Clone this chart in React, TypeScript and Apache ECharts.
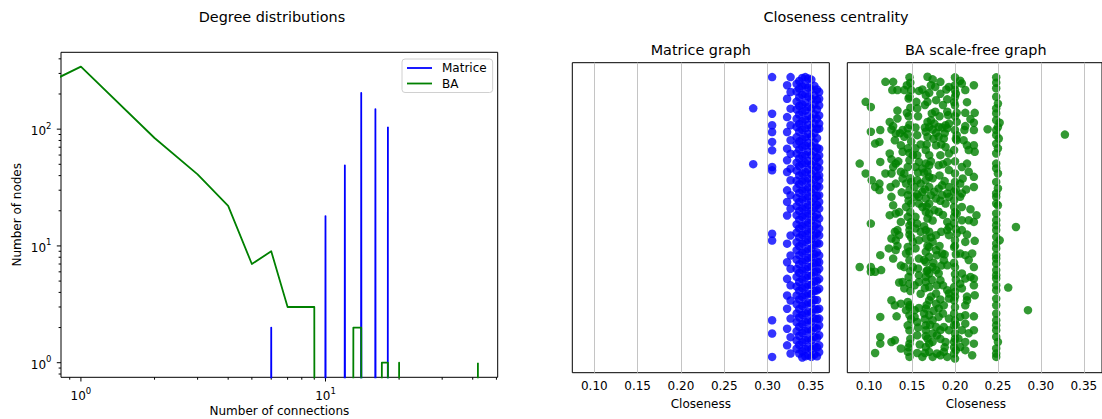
import React, { useEffect, useRef } from "react";
import * as echarts from "echarts";

const FONT = '"DejaVu Sans", sans-serif';

// ---------- Degree distributions (index = number of connections) ----------
const matriceDegreeCounts = [0, 0, 0, 0, 0, 0, 2, 0, 0, 0, 18, 0, 49, 0, 204, 0, 148, 0, 105];
const baDegreeCounts = [
  0, 343, 84, 41, 22, 7, 9, 3, 3, 3, 0, 0, 0, 2, 2, 0, 0, 1, 1, 0, 1,
  0, 0, 0, 0, 0, 0, 0, 0, 0, 0, 0, 0, 0, 0, 0, 0, 0, 0, 0, 0, 0,
  1,
];
const DEG_MIN = 0.829;
const DEG_MAX = 50.6;
const COUNT_MIN = 0.75;
const COUNT_MAX = 455;
const degMajorTicks = [1, 10];
const degMinorTicks = [0.9, 2, 3, 4, 5, 6, 7, 8, 9, 20, 30, 40, 50];
const countMajorTicks = [1, 10, 100];
const countMinorTicks = [0.8, 0.9, 2, 3, 4, 5, 6, 7, 8, 9, 20, 30, 40, 50, 60, 70, 80, 90, 200, 300, 400];
// matplotlib clips non-positive values on log axes to a vanishingly small number
const LOG_CLIP = 1e-100;

// ---------- Closeness centrality (closeness value, vertical jitter) ----------
const CLOSE_MIN = 0.0746;
const CLOSE_MAX = 0.3712;
const closenessTicks = [0.1, 0.15, 0.2, 0.25, 0.3, 0.35];

const matriceColumns: [number, number[]][] = [
  [0.2834, [0.888, 0.69]],
  [0.3052, [0.999, 0.869, 0.828, 0.804, 0.769, 0.739, 0.68, 0.668, 0.443, 0.419, 0.136, 0.089, 0.006]],
  [0.3225, [0.97, 0.922, 0.857, 0.804, 0.745, 0.704, 0.662, 0.597, 0.556, 0.508, 0.408, 0.342, 0.283, 0.224, 0.177, 0.106, 0.047]],
  [0.3265, [0.999, 0.946, 0.887, 0.828, 0.775, 0.727, 0.674, 0.633, 0.58, 0.532, 0.437, 0.366, 0.319, 0.26, 0.206, 0.142, 0.076, 0.018]],
  [0.3335, [0.975, 0.948, 0.912, 0.884, 0.851, 0.822, 0.786, 0.76, 0.728, 0.695, 0.667, 0.631, 0.604, 0.57, 0.541, 0.509, 0.476, 0.447, 0.413, 0.385, 0.351, 0.318, 0.29, 0.256, 0.224, 0.193, 0.16, 0.129, 0.097, 0.064, 0.035]],
  [0.3365, [0.985, 0.958, 0.927, 0.897, 0.866, 0.833, 0.805, 0.771, 0.742, 0.71, 0.683, 0.65, 0.619, 0.588, 0.556, 0.524, 0.493, 0.462, 0.43, 0.399, 0.367, 0.335, 0.304, 0.272, 0.241, 0.21, 0.176, 0.146, 0.113, 0.081, 0.049, 0.018]],
  [0.34, [0.996, 0.966, 0.936, 0.902, 0.875, 0.842, 0.812, 0.779, 0.751, 0.719, 0.69, 0.657, 0.628, 0.596, 0.565, 0.533, 0.503, 0.47, 0.439, 0.408, 0.376, 0.344, 0.313, 0.281, 0.25, 0.219, 0.187, 0.155, 0.122, 0.091, 0.058, 0.026, 0.004]],
  [0.3435, [0.999, 0.97, 0.939, 0.909, 0.88, 0.848, 0.817, 0.786, 0.756, 0.723, 0.694, 0.662, 0.632, 0.601, 0.571, 0.538, 0.508, 0.476, 0.444, 0.414, 0.381, 0.35, 0.318, 0.288, 0.255, 0.225, 0.193, 0.161, 0.13, 0.098, 0.066, 0.034, 0.008]],
  [0.347, [0.994, 0.962, 0.93, 0.893, 0.861, 0.829, 0.797, 0.765, 0.735, 0.701, 0.671, 0.639, 0.607, 0.576, 0.545, 0.515, 0.482, 0.451, 0.421, 0.388, 0.357, 0.326, 0.294, 0.262, 0.231, 0.199, 0.167, 0.136, 0.104, 0.072, 0.041, 0.012]],
  [0.3505, [0.99, 0.956, 0.921, 0.888, 0.853, 0.819, 0.788, 0.754, 0.722, 0.688, 0.655, 0.622, 0.59, 0.556, 0.524, 0.491, 0.458, 0.425, 0.392, 0.36, 0.327, 0.295, 0.262, 0.229, 0.196, 0.163, 0.131, 0.099, 0.066, 0.034, 0.006]],
  [0.354, [0.968, 0.934, 0.902, 0.867, 0.834, 0.8, 0.767, 0.735, 0.7, 0.667, 0.635, 0.601, 0.568, 0.536, 0.503, 0.47, 0.437, 0.404, 0.371, 0.339, 0.306, 0.273, 0.24, 0.208, 0.175, 0.143, 0.11, 0.077, 0.044, 0.014]],
  [0.357, [0.955, 0.918, 0.884, 0.851, 0.815, 0.782, 0.748, 0.713, 0.68, 0.646, 0.612, 0.578, 0.545, 0.511, 0.478, 0.444, 0.41, 0.377, 0.343, 0.309, 0.276, 0.242, 0.208, 0.174, 0.141, 0.107, 0.074, 0.04, 0.008]],
  [0.3595, [0.946, 0.922, 0.899, 0.863, 0.834, 0.816, 0.745, 0.721, 0.698, 0.674, 0.65, 0.633, 0.609, 0.58, 0.556, 0.532, 0.497, 0.461, 0.437, 0.408, 0.366, 0.342, 0.319, 0.283, 0.248, 0.177, 0.142, 0.118, 0.083, 0.047, 0.023]],
];

const baPoints: [number, number][] = [
  [0.119, 0.982], [0.128, 0.982], [0.127, 0.953], [0.133, 0.953], [0.141, 0.953], [0.144, 0.97], [0.147, 0.998], [0.148, 0.979],
  [0.149, 0.953], [0.162, 0.955], [0.168, 1.0], [0.17, 0.943], [0.174, 0.991], [0.177, 0.964], [0.183, 0.982], [0.19, 0.955],
  [0.193, 0.964], [0.2, 0.998], [0.2, 0.953], [0.206, 0.986], [0.208, 0.976], [0.212, 0.953], [0.222, 0.97], [0.248, 0.998],
  [0.248, 0.979], [0.248, 0.959],
  [0.096, 0.911], [0.102, 0.893], [0.146, 0.923], [0.155, 0.911], [0.168, 0.911], [0.178, 0.917], [0.191, 0.92], [0.2, 0.929],
  [0.2, 0.899], [0.248, 0.929], [0.25, 0.905], [0.248, 0.888], [0.166, 0.935],
  [0.144, 0.872], [0.156, 0.888], [0.177, 0.876], [0.191, 0.876], [0.192, 0.864], [0.202, 0.872], [0.212, 0.872], [0.223, 0.872],
  [0.248, 0.87], [0.124, 0.84], [0.133, 0.852], [0.128, 0.825], [0.168, 0.84], [0.17, 0.822], [0.176, 0.834], [0.181, 0.822],
  [0.189, 0.828], [0.193, 0.834], [0.202, 0.84], [0.212, 0.825], [0.222, 0.837], [0.248, 0.846], [0.252, 0.837], [0.25, 0.822],
  [0.172, 0.846],
  [0.102, 0.805], [0.113, 0.811], [0.126, 0.813], [0.131, 0.799], [0.139, 0.811], [0.145, 0.817], [0.154, 0.82], [0.141, 0.787],
  [0.145, 0.796], [0.156, 0.793], [0.166, 0.805], [0.168, 0.787], [0.174, 0.813], [0.178, 0.801], [0.181, 0.787], [0.185, 0.82],
  [0.191, 0.817], [0.187, 0.781], [0.2, 0.811], [0.202, 0.793], [0.211, 0.811], [0.222, 0.811], [0.238, 0.814], [0.248, 0.811],
  [0.248, 0.793], [0.251, 0.781], [0.328, 0.795],
  [0.107, 0.763], [0.112, 0.769], [0.13, 0.775], [0.137, 0.757], [0.145, 0.746], [0.139, 0.734], [0.154, 0.746], [0.156, 0.722],
  [0.166, 0.74], [0.17, 0.722], [0.178, 0.757], [0.189, 0.751], [0.183, 0.722], [0.202, 0.775], [0.21, 0.775], [0.214, 0.757],
  [0.222, 0.757], [0.223, 0.734], [0.248, 0.763], [0.25, 0.746], [0.248, 0.728], [0.124, 0.728], [0.151, 0.722], [0.193, 0.728],
  [0.089, 0.692], [0.113, 0.698], [0.126, 0.707], [0.128, 0.68], [0.131, 0.692], [0.147, 0.704], [0.154, 0.68], [0.158, 0.698],
  [0.162, 0.675], [0.166, 0.692], [0.17, 0.686], [0.168, 0.663], [0.181, 0.686], [0.191, 0.698], [0.193, 0.669], [0.2, 0.657],
  [0.208, 0.68], [0.214, 0.692], [0.216, 0.663], [0.248, 0.692], [0.248, 0.675], [0.25, 0.657], [0.145, 0.68], [0.141, 0.657],
  [0.096, 0.657], [0.119, 0.657], [0.126, 0.657], [0.137, 0.663],
  [0.103, 0.633], [0.112, 0.621], [0.107, 0.609], [0.112, 0.598], [0.125, 0.609], [0.131, 0.621], [0.139, 0.639], [0.143, 0.621],
  [0.149, 0.627], [0.153, 0.609], [0.156, 0.633], [0.16, 0.621], [0.166, 0.633], [0.17, 0.645], [0.162, 0.592], [0.17, 0.609],
  [0.181, 0.604], [0.185, 0.615], [0.193, 0.609], [0.2, 0.627], [0.206, 0.621], [0.209, 0.639], [0.222, 0.645], [0.222, 0.609],
  [0.248, 0.627], [0.25, 0.604], [0.248, 0.586], [0.147, 0.598], [0.156, 0.583], [0.176, 0.592], [0.191, 0.586], [0.199, 0.592],
  [0.208, 0.586],
  [0.126, 0.574], [0.128, 0.544], [0.145, 0.58], [0.153, 0.574], [0.149, 0.55], [0.158, 0.574], [0.166, 0.568], [0.17, 0.55],
  [0.178, 0.568], [0.185, 0.58], [0.189, 0.55], [0.193, 0.574], [0.199, 0.562], [0.206, 0.574], [0.208, 0.538], [0.248, 0.574],
  [0.248, 0.55], [0.25, 0.544], [0.143, 0.538], [0.162, 0.538], [0.199, 0.538],
  [0.124, 0.509], [0.131, 0.515], [0.137, 0.485], [0.145, 0.503], [0.149, 0.485], [0.154, 0.503], [0.156, 0.479], [0.166, 0.521],
  [0.168, 0.497], [0.17, 0.515], [0.176, 0.527], [0.181, 0.521], [0.191, 0.485], [0.193, 0.467], [0.199, 0.503], [0.202, 0.515],
  [0.208, 0.491], [0.216, 0.491], [0.222, 0.485], [0.225, 0.509], [0.248, 0.515], [0.248, 0.491], [0.248, 0.473], [0.102, 0.479],
  [0.271, 0.467], [0.147, 0.473],
  [0.13, 0.45], [0.133, 0.456], [0.135, 0.438], [0.147, 0.456], [0.154, 0.462], [0.166, 0.456], [0.17, 0.45], [0.178, 0.438],
  [0.166, 0.426], [0.191, 0.456], [0.193, 0.438], [0.202, 0.444], [0.208, 0.456], [0.126, 0.426], [0.131, 0.42], [0.151, 0.414],
  [0.174, 0.414], [0.2, 0.42], [0.212, 0.414], [0.223, 0.418], [0.248, 0.456], [0.248, 0.432], [0.252, 0.42], [0.248, 0.408],
  [0.123, 0.391], [0.131, 0.385], [0.113, 0.367], [0.128, 0.355], [0.145, 0.396], [0.143, 0.373], [0.154, 0.391], [0.166, 0.379],
  [0.17, 0.396], [0.17, 0.361], [0.178, 0.385], [0.179, 0.367], [0.185, 0.373], [0.199, 0.396], [0.206, 0.373], [0.212, 0.367],
  [0.22, 0.373], [0.248, 0.391], [0.248, 0.367], [0.248, 0.355], [0.158, 0.355], [0.187, 0.349], [0.147, 0.349],
  [0.089, 0.325], [0.102, 0.325], [0.102, 0.308], [0.107, 0.308], [0.114, 0.314], [0.141, 0.325], [0.151, 0.325], [0.166, 0.343],
  [0.168, 0.314], [0.17, 0.302], [0.174, 0.325], [0.178, 0.314], [0.181, 0.302], [0.191, 0.331], [0.2, 0.325], [0.208, 0.302],
  [0.222, 0.325], [0.248, 0.337], [0.248, 0.314], [0.248, 0.296], [0.158, 0.296], [0.166, 0.29],
  [0.139, 0.272], [0.147, 0.266], [0.153, 0.26], [0.158, 0.272], [0.166, 0.272], [0.17, 0.254], [0.179, 0.26], [0.183, 0.278],
  [0.191, 0.243], [0.199, 0.254], [0.2, 0.237], [0.206, 0.266], [0.208, 0.249], [0.212, 0.284], [0.222, 0.284], [0.222, 0.26],
  [0.223, 0.225], [0.248, 0.284], [0.248, 0.26], [0.248, 0.243], [0.262, 0.252], [0.141, 0.249], [0.178, 0.231], [0.193, 0.231],
  [0.126, 0.207], [0.13, 0.189], [0.137, 0.195], [0.145, 0.201], [0.147, 0.183], [0.153, 0.172], [0.166, 0.178], [0.17, 0.207],
  [0.178, 0.195], [0.181, 0.178], [0.187, 0.189], [0.193, 0.213], [0.199, 0.207], [0.2, 0.183], [0.212, 0.189], [0.214, 0.207],
  [0.248, 0.213], [0.248, 0.189], [0.285, 0.172], [0.143, 0.172],
  [0.113, 0.148], [0.147, 0.154], [0.153, 0.148], [0.145, 0.118], [0.156, 0.13], [0.164, 0.16], [0.17, 0.154], [0.174, 0.136],
  [0.181, 0.148], [0.193, 0.142], [0.2, 0.136], [0.206, 0.148], [0.212, 0.154], [0.222, 0.15], [0.248, 0.16], [0.248, 0.136],
  [0.248, 0.118], [0.166, 0.118], [0.178, 0.112], [0.187, 0.112], [0.199, 0.118], [0.212, 0.124],
  [0.113, 0.077], [0.113, 0.053], [0.126, 0.059], [0.13, 0.065], [0.156, 0.083], [0.166, 0.101], [0.168, 0.071], [0.17, 0.053],
  [0.174, 0.089], [0.179, 0.083], [0.183, 0.101], [0.193, 0.101], [0.2, 0.089], [0.204, 0.071], [0.208, 0.101], [0.212, 0.059],
  [0.222, 0.101], [0.222, 0.053], [0.248, 0.101], [0.248, 0.077], [0.25, 0.059], [0.147, 0.053], [0.189, 0.059], [0.199, 0.059],
  [0.107, 0.02], [0.145, 0.024], [0.147, 0.006], [0.156, 0.02], [0.166, 0.041], [0.17, 0.024], [0.174, 0.006], [0.179, 0.018],
  [0.183, 0.012], [0.187, 0.024], [0.191, 0.006], [0.199, 0.018], [0.2, 0.0], [0.206, 0.041], [0.212, 0.03], [0.22, 0.012],
  [0.248, 0.036], [0.248, 0.018], [0.248, 0.006], [0.137, 0.036], [0.162, 0.006],
  // denser columns around 0.15, 0.17, 0.185 and 0.20
  [0.2, 0.97], [0.201, 0.94], [0.199, 0.91], [0.2, 0.86], [0.201, 0.78], [0.199, 0.74], [0.2, 0.7], [0.201, 0.6],
  [0.2, 0.52], [0.199, 0.48], [0.201, 0.46], [0.2, 0.4], [0.201, 0.37], [0.199, 0.34], [0.2, 0.3], [0.201, 0.28],
  [0.2, 0.22], [0.199, 0.16], [0.201, 0.12], [0.2, 0.07], [0.199, 0.04], [0.201, 0.03],
  [0.147, 0.93], [0.148, 0.89], [0.146, 0.86], [0.147, 0.83], [0.149, 0.77], [0.147, 0.73], [0.148, 0.64], [0.146, 0.56],
  [0.148, 0.52], [0.147, 0.44], [0.149, 0.43], [0.147, 0.38], [0.148, 0.31], [0.146, 0.29], [0.148, 0.24], [0.147, 0.19],
  [0.149, 0.14], [0.147, 0.1], [0.148, 0.07], [0.146, 0.04],
  [0.172, 0.97], [0.165, 0.9], [0.173, 0.87], [0.165, 0.82], [0.175, 0.78], [0.167, 0.76], [0.172, 0.7], [0.164, 0.66],
  [0.174, 0.64], [0.165, 0.6], [0.172, 0.58], [0.167, 0.54], [0.174, 0.49], [0.164, 0.47], [0.172, 0.43], [0.168, 0.4],
  [0.164, 0.35], [0.175, 0.34], [0.167, 0.31], [0.173, 0.28], [0.165, 0.25], [0.172, 0.22], [0.167, 0.19], [0.175, 0.17],
  [0.165, 0.14], [0.171, 0.12], [0.166, 0.08], [0.174, 0.06], [0.165, 0.02],
  [0.183, 0.94], [0.186, 0.9], [0.182, 0.86], [0.188, 0.8], [0.184, 0.76], [0.186, 0.69], [0.182, 0.65], [0.188, 0.63],
  [0.183, 0.56], [0.186, 0.51], [0.184, 0.45], [0.182, 0.4], [0.188, 0.37], [0.184, 0.33], [0.186, 0.26], [0.183, 0.21],
  [0.186, 0.16], [0.183, 0.07], [0.188, 0.04],
  [0.158, 0.95], [0.157, 0.86], [0.16, 0.76], [0.157, 0.66], [0.158, 0.55], [0.16, 0.45], [0.158, 0.42], [0.157, 0.32],
  [0.16, 0.23], [0.158, 0.18], [0.157, 0.11], [0.159, 0.05],
  [0.214, 0.91], [0.218, 0.85], [0.216, 0.74], [0.213, 0.6], [0.218, 0.53], [0.214, 0.44], [0.216, 0.35], [0.218, 0.29],
  [0.214, 0.22], [0.216, 0.09],
  [0.133, 0.88], [0.136, 0.8], [0.134, 0.7], [0.138, 0.59], [0.135, 0.52], [0.133, 0.4], [0.137, 0.33], [0.135, 0.27],
  [0.132, 0.15],
];

const BLUE = "#0000ff";
const GREEN = "#008000";
const TICK = 4.2;
const MINOR = 2.4;

function logPoint(count: number, degree: number): [number, number] {
  return [degree > 0 ? degree : LOG_CLIP, count > 0 ? count : LOG_CLIP];
}

const powRich = {
  b: { fontSize: 12, fontFamily: FONT, lineHeight: 16, verticalAlign: "bottom", fill: "#000", color: "#000" },
  s: { fontSize: 8.5, fontFamily: FONT, lineHeight: 16, verticalAlign: "top", fill: "#000", color: "#000" },
};

function powText(v: number) {
  return `{b|10}{s|${Math.round(Math.log10(v))}}`;
}

export default function App() {
  const ref = useRef<HTMLDivElement>(null);
  useEffect(() => {
    if (!ref.current) return;
    const chart = echarts.init(ref.current, undefined, { renderer: "svg" });

    const matriceData: [number, number][] = [];
    matriceColumns.forEach(([c, ys]) => ys.forEach((y) => matriceData.push([c, y])));

    const xTickData = [
      ...degMajorTicks.map((v) => [v, 2]),
      ...degMinorTicks.map((v) => [v, 1]),
    ];
    const yTickData = [
      ...countMajorTicks.map((v) => [2, v]),
      ...countMinorTicks.map((v) => [1, v]),
    ];

    const gridLines = {
      silent: true,
      symbol: "none",
      animation: false,
      label: { show: false },
      lineStyle: { color: "#c4c4c4", width: 1, type: "solid" },
      data: closenessTicks.map((v) => ({ xAxis: v })),
    };

    const closenessXAxis = (gridIndex: number) => ({
      type: "value",
      gridIndex,
      min: CLOSE_MIN,
      max: CLOSE_MAX,
      axisLine: { show: false },
      axisTick: { show: true, customValues: closenessTicks, length: TICK, lineStyle: { color: "#000", width: 1 } },
      axisLabel: {
        customValues: closenessTicks,
        formatter: (v: number) => v.toFixed(2),
        fontSize: 12,
        fontFamily: FONT,
        color: "#000",
        margin: 7,
      },
      splitLine: { show: false },
    });
    const jitterYAxis = (gridIndex: number) => ({
      type: "value",
      gridIndex,
      min: -0.05,
      max: 1.05,
      show: false,
      splitLine: { show: false },
    });

    const txt = (text: string, x: number, y: number, size: number, rotation = 0) => ({
      type: "text",
      x,
      y,
      rotation,
      silent: true,
      style: {
        text,
        fontSize: size,
        fontFamily: FONT,
        fill: "#000",
        align: "center",
        verticalAlign: "middle",
        textAlign: "center",
        textVerticalAlign: "middle",
      },
    });

    chart.setOption({
      animation: false,
      backgroundColor: "#fff",
      textStyle: { fontFamily: FONT },
      graphic: [
        txt("Degree distributions", 272, 17, 14.4),
        txt("Closeness centrality", 836, 17, 14.4),
        txt("Matrice graph", 700.8, 50, 14.4),
        txt("BA scale-free graph", 975.8, 50, 14.4),
        txt("Number of connections", 279.4, 411, 12),
        txt("Number of nodes", 17, 214.8, 12, Math.PI / 2),
        txt("Closeness", 700.8, 403.5, 12),
        txt("Closeness", 975.8, 403.5, 12),
      ],
      legend: {
        data: [
          { name: "Matrice", icon: "rect" },
          { name: "BA", icon: "rect" },
        ],
        orient: "vertical",
        left: 402,
        top: 59,
        itemWidth: 25,
        itemHeight: 1.8,
        itemGap: 3.5,
        padding: [3, 6, 3, 5],
        borderColor: "#d0d0d0",
        borderWidth: 1,
        borderRadius: 3,
        backgroundColor: "#ffffff",
        selectedMode: false,
        textStyle: { fontSize: 12, fontFamily: FONT, color: "#000", padding: [0, 0, 0, 5] },
      },
      grid: [
        { left: 61, top: 52.3, width: 436.7, height: 325, show: true, borderColor: "#000", borderWidth: 1, backgroundColor: "transparent" },
        { left: 572.3, top: 62.7, width: 257, height: 310, show: true, borderColor: "#000", borderWidth: 1, backgroundColor: "transparent" },
        { left: 847.3, top: 62.7, width: 257, height: 310, show: true, borderColor: "#000", borderWidth: 1, backgroundColor: "transparent" },
      ],
      xAxis: [
        {
          type: "log",
          logBase: 10,
          gridIndex: 0,
          min: DEG_MIN,
          max: DEG_MAX,
          axisLine: { show: false },
          axisTick: { show: false },
          axisLabel: { show: false },
          splitLine: { show: false },
        },
        closenessXAxis(1),
        closenessXAxis(2),
      ],
      yAxis: [
        {
          type: "log",
          logBase: 10,
          gridIndex: 0,
          min: COUNT_MIN,
          max: COUNT_MAX,
          axisLine: { show: false },
          axisTick: { show: false },
          axisLabel: { show: false },
          splitLine: { show: false },
        },
        jitterYAxis(1),
        jitterYAxis(2),
      ],
      series: [
        {
          name: "Matrice",
          type: "line",
          xAxisIndex: 0,
          yAxisIndex: 0,
          data: matriceDegreeCounts.map((c, d) => logPoint(c, d)),
          showSymbol: false,
          symbol: "none",
          clip: true,
          color: BLUE,
          lineStyle: { color: BLUE, width: 1.8, join: "round" },
        },
        {
          name: "BA",
          type: "line",
          xAxisIndex: 0,
          yAxisIndex: 0,
          data: baDegreeCounts.map((c, d) => logPoint(c, d)),
          showSymbol: false,
          symbol: "none",
          clip: true,
          color: GREEN,
          lineStyle: { color: GREEN, width: 1.8, join: "round" },
        },
        {
          name: "degTicks",
          type: "custom",
          xAxisIndex: 0,
          yAxisIndex: 0,
          silent: true,
          clip: false,
          data: xTickData,
          encode: { x: 0, y: 1 },
          renderItem: (_p: any, api: any) => {
            const v = api.value(0);
            const major = api.value(1) === 2;
            const pt = api.coord([v, COUNT_MIN]);
            const len = major ? TICK : MINOR;
            const children: any[] = [
              { type: "line", shape: { x1: pt[0], y1: pt[1], x2: pt[0], y2: pt[1] + len }, style: { stroke: "#000", lineWidth: 1 } },
            ];
            if (major) {
              children.push({
                type: "text",
                x: pt[0],
                y: pt[1] + 9,
                style: { text: powText(v), rich: powRich, align: "center", verticalAlign: "top", textAlign: "center", textVerticalAlign: "top", fill: "#000" },
              });
            }
            return { type: "group", children };
          },
        },
        {
          name: "countTicks",
          type: "custom",
          xAxisIndex: 0,
          yAxisIndex: 0,
          silent: true,
          clip: false,
          data: yTickData,
          encode: { x: 0, y: 1 },
          renderItem: (_p: any, api: any) => {
            const v = api.value(1);
            const major = api.value(0) === 2;
            const pt = api.coord([DEG_MIN, v]);
            const len = major ? TICK : MINOR;
            const children: any[] = [
              { type: "line", shape: { x1: pt[0], y1: pt[1], x2: pt[0] - len, y2: pt[1] }, style: { stroke: "#000", lineWidth: 1 } },
            ];
            if (major) {
              children.push({
                type: "text",
                x: pt[0] - 9.5,
                y: pt[1],
                style: { text: powText(v), rich: powRich, align: "right", verticalAlign: "middle", textAlign: "right", textVerticalAlign: "middle", fill: "#000" },
              });
            }
            return { type: "group", children };
          },
        },
        {
          name: "Matrice graph",
          type: "scatter",
          xAxisIndex: 1,
          yAxisIndex: 1,
          data: matriceData,
          symbolSize: 8.5,
          itemStyle: { color: BLUE, opacity: 0.8 },
          markLine: gridLines,
        },
        {
          name: "BA scale-free graph",
          type: "scatter",
          xAxisIndex: 2,
          yAxisIndex: 2,
          data: baPoints,
          symbolSize: 8.5,
          itemStyle: { color: GREEN, opacity: 0.8 },
          markLine: gridLines,
        },
      ],
    });
    return () => chart.dispose();
  }, []);
  return <div ref={ref} style={{ position: "fixed", left: 0, top: 0, width: 1102, height: 419 }} />;
}
